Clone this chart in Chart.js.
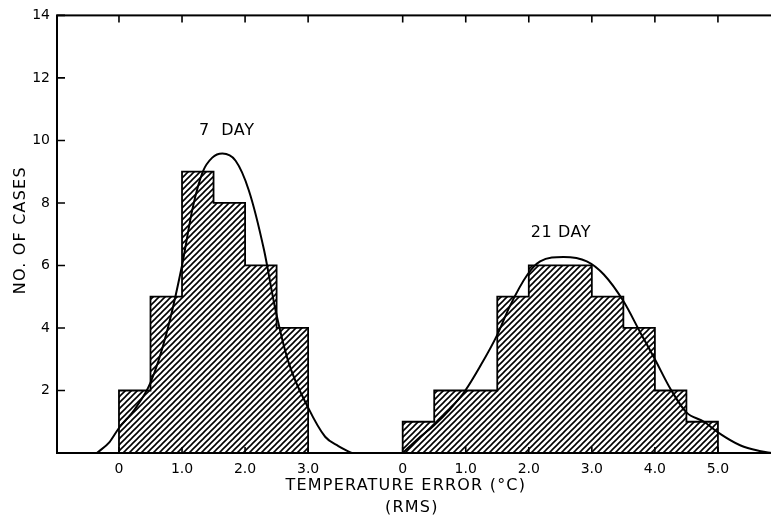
<!DOCTYPE html>
<html>
<head>
  <title>Temperature error histogram</title>
  <script src="https://cdn.jsdelivr.net/npm/chart.js"></script>
  <style>
    body { margin: 0; overflow: hidden; background: #fff; }
    canvas { display: block; }
  </style>
</head>
<body>
  <canvas id="myChart" width="790" height="519"></canvas>

  <script>
    // Histogram bins (deg C) and number of cases in each bin
    var edges7 = [0, 0.5, 1.0, 1.5, 2.0, 2.5, 3.0];
    var counts7 = [2, 5, 9, 8, 6, 4];
    var edges21 = [0, 0.5, 1.0, 1.5, 2.0, 2.5, 3.0, 3.5, 4.0, 4.5, 5.0];
    var counts21 = [1, 2, 2, 5, 6, 6, 5, 4, 2, 1];

    // Fitted curves
    var curveX7 = [-0.35, -0.15, 0, 0.25, 0.5, 0.75, 1.0, 1.17, 1.33, 1.48, 1.64, 1.85, 2.06, 2.3, 2.48, 2.69, 3.0, 3.27, 3.48, 3.69];
    var curveY7 = [0, 0.35, 0.8, 1.4, 2.25, 3.8, 6.0, 7.85, 9.0, 9.45, 9.58, 9.35, 8.4, 6.5, 4.6, 2.9, 1.45, 0.52, 0.22, 0];
    var curveX21 = [0, 0.24, 0.49, 0.75, 0.99, 1.23, 1.49, 1.7, 1.98, 2.18, 2.55, 2.92, 3.19, 3.5, 3.77, 4.0, 4.25, 4.5, 4.78, 5.0, 5.36, 5.68, 5.85];
    var curveY21 = [0, 0.45, 0.87, 1.4, 1.99, 2.78, 3.74, 4.7, 5.71, 6.13, 6.27, 6.13, 5.71, 4.86, 3.85, 3.0, 2.04, 1.3, 1.0, 0.66, 0.24, 0.06, 0];

    // Tick labels
    var ticks7 = [0, 1, 2, 3];
    var tickLabels7 = ['0', '1.0', '2.0', '3.0'];
    var ticks21 = [0, 1, 2, 3, 4, 5];
    var tickLabels21 = ['0', '1.0', '2.0', '3.0', '4.0', '5.0'];
    var yTicks = [2, 4, 6, 8, 10, 12, 14];

    // the 21 day group is drawn further along the same x axis
    var shift21 = 4.5;

    var xTickValues = ticks7.concat(ticks21.map(function (v) { return v + shift21; }));
    var xTickLabels = tickLabels7.concat(tickLabels21);

    function steps(edges, counts, shift) {
      var pts = [{ x: edges[0] + shift, y: 0 }];
      counts.forEach(function (c, i) {
        pts.push({ x: edges[i + 1] + shift, y: c });
      });
      pts.push({ x: edges[edges.length - 1] + shift, y: 0 });
      return pts;
    }

    function curve(xs, ys, shift) {
      return xs.map(function (x, i) { return { x: x + shift, y: ys[i] }; });
    }

    // diagonal hatching
    function hatch() {
      var s = 6;
      var c = document.createElement('canvas');
      c.width = s;
      c.height = s;
      var g = c.getContext('2d');
      g.fillStyle = '#fff';
      g.fillRect(0, 0, s, s);
      g.strokeStyle = '#000';
      g.lineWidth = 1.6;
      g.beginPath();
      g.moveTo(-1, s + 1); g.lineTo(s + 1, -1);
      g.moveTo(-1, 1); g.lineTo(1, -1);
      g.moveTo(s - 1, s + 1); g.lineTo(s + 1, s - 1);
      g.stroke();
      return g.createPattern(c, 'repeat');
    }
    var hatchFill = hatch();

    var font = 'DejaVu Sans';

    var frame = {
      id: 'frame',
      afterDatasetsDraw: function (chart) {
        var ctx = chart.ctx;
        var a = chart.chartArea;
        var x = chart.scales.x;
        var y = chart.scales.y;
        ctx.save();
        ctx.strokeStyle = '#000';
        ctx.lineWidth = 2;
        ctx.strokeRect(a.left, a.top, a.right - a.left, a.bottom - a.top);

        ctx.lineWidth = 1.6;
        ctx.beginPath();
        xTickValues.forEach(function (v) {
          var px = x.getPixelForValue(v);
          ctx.moveTo(px, a.top); ctx.lineTo(px, a.top + 7);
          ctx.moveTo(px, a.bottom); ctx.lineTo(px, a.bottom - 6);
        });
        yTicks.forEach(function (v) {
          var py = y.getPixelForValue(v);
          ctx.moveTo(a.left, py); ctx.lineTo(a.left + 8, py);
          ctx.moveTo(a.right, py); ctx.lineTo(a.right - 8, py);
        });
        ctx.stroke();

        ctx.fillStyle = '#000';
        ctx.textAlign = 'center';
        ctx.textBaseline = 'middle';
        ctx.font = '16px "' + font + '"';
        ctx.letterSpacing = '0.6px';
        ctx.fillText('7  DAY', x.getPixelForValue(1.71), y.getPixelForValue(10.3));
        ctx.fillText('21 DAY', x.getPixelForValue(2.51 + shift21), y.getPixelForValue(7.05));

        ctx.letterSpacing = '1.2px';
        var tx = x.getPixelForValue(4.55);
        ctx.fillText('TEMPERATURE ERROR (°C)', tx, 486);
        ctx.fillText('(RMS)', tx + 6, 508);

        ctx.translate(21, (a.top + a.bottom) / 2 - 4);
        ctx.rotate(-Math.PI / 2);
        ctx.fillText('NO. OF CASES', 0, 0);
        ctx.restore();
      }
    };

    var data = {
      datasets: [{
        label: '7 day fit',
        data: curve(curveX7, curveY7, 0),
        cubicInterpolationMode: 'monotone',
        fill: false,
        borderColor: '#000',
        borderWidth: 2,
        pointRadius: 0,
        order: 0
      }, {
        label: '21 day fit',
        data: curve(curveX21, curveY21, shift21),
        cubicInterpolationMode: 'monotone',
        fill: false,
        borderColor: '#000',
        borderWidth: 2,
        pointRadius: 0,
        order: 0
      }, {
        label: '7 day',
        data: steps(edges7, counts7, 0),
        stepped: 'after',
        fill: 'origin',
        backgroundColor: hatchFill,
        borderColor: '#000',
        borderWidth: 1.8,
        pointRadius: 0,
        order: 1
      }, {
        label: '21 day',
        data: steps(edges21, counts21, shift21),
        stepped: 'after',
        fill: 'origin',
        backgroundColor: hatchFill,
        borderColor: '#000',
        borderWidth: 1.8,
        pointRadius: 0,
        order: 1
      }]
    };

    var options = {
      responsive: false,
      animation: false,
      layout: { padding: { top: 14, left: 0, right: 0, bottom: 0 } },
      plugins: {
        legend: { display: false },
        tooltip: { enabled: false }
      },
      scales: {
        x: {
          type: 'linear',
          min: -0.983,
          max: 10.643,
          grid: { display: false, drawTicks: false },
          border: { display: false },
          afterBuildTicks: function (scale) {
            scale.ticks = xTickValues.map(function (v) { return { value: v }; });
          },
          afterFit: function (scale) { scale.height = 66; },
          ticks: {
            autoSkip: false,
            maxRotation: 0,
            padding: 8,
            color: '#000',
            font: { family: font, size: 14 },
            callback: function (value, index) { return xTickLabels[index]; }
          }
        },
        y: {
          min: 0,
          max: 14,
          grid: { display: false, drawTicks: false },
          border: { display: false },
          afterBuildTicks: function (scale) {
            scale.ticks = yTicks.map(function (v) { return { value: v }; });
          },
          afterFit: function (scale) { scale.width = 57; },
          ticks: {
            padding: 7,
            color: '#000',
            font: { family: font, size: 14 }
          }
        }
      }
    };

    var ctx = document.getElementById('myChart').getContext('2d');
    var myChart = new Chart(ctx, {
      type: 'line',
      data: data,
      options: options,
      plugins: [frame]
    });
  </script>
</body>
</html>
